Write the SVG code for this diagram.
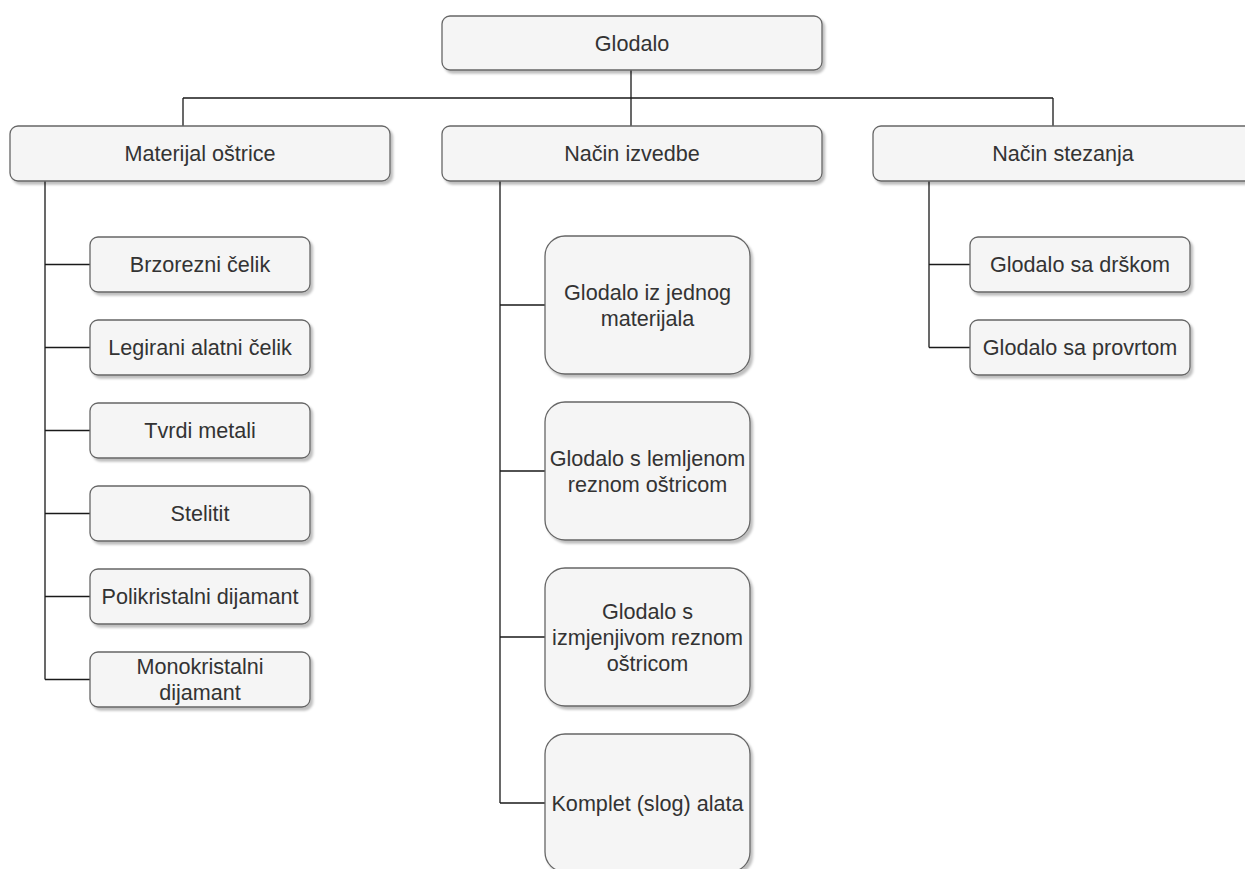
<svg xmlns="http://www.w3.org/2000/svg" width="1245" height="869" viewBox="0 0 1245 869">
<defs>
<filter id="sh" x="-10%" y="-10%" width="125%" height="130%">
<feDropShadow dx="2.5" dy="3" stdDeviation="1" flood-color="#000" flood-opacity="0.25"/>
</filter>
<style>
.box{fill:#f5f5f5;stroke:#666666;stroke-width:1.3;filter:url(#sh)}
.t{font-family:"Liberation Sans",Arial,sans-serif;font-size:21.6px;fill:#333333;text-anchor:middle}
.c{fill:none;stroke:#1a1a1a;stroke-width:1.3}
</style>
</defs>
<rect width="1245" height="869" fill="#ffffff"/>
<g id="connectors">
<path class="c" d="M631 70V126M183 98H1053M183 98V126M1053 98V126"/>
<path class="c" d="M45 181V679.5M45 264.5H90M45 347.5H90M45 430.5H90M45 513.5H90M45 596.5H90M45 679.5H90"/>
<path class="c" d="M500 181V803M500 305H545M500 471H545M500 637H545M500 803H545"/>
<path class="c" d="M929 181V347.5M929 264.5H970M929 347.5H970"/>
</g>
<g id="glodalo"><rect class="box" x="442" y="16" width="380" height="54" rx="8"/><text class="t" x="632" y="51">Glodalo</text></g>
<g id="materijal"><rect class="box" x="10" y="126" width="380" height="55" rx="8"/><text class="t" x="200" y="161">Materijal oštrice</text></g>
<g id="izvedba"><rect class="box" x="442" y="126" width="380" height="55" rx="8"/><text class="t" x="632" y="161">Način izvedbe</text></g>
<g id="stezanje"><rect class="box" x="873" y="126" width="380" height="55" rx="8"/><text class="t" x="1063" y="161">Način stezanja</text></g>
<g id="brzorezni"><rect class="box" x="90" y="237" width="220" height="55" rx="8"/><text class="t" x="200" y="272">Brzorezni čelik</text></g>
<g id="legirani"><rect class="box" x="90" y="320" width="220" height="55" rx="8"/><text class="t" x="200" y="355">Legirani alatni čelik</text></g>
<g id="tvrdi"><rect class="box" x="90" y="403" width="220" height="55" rx="8"/><text class="t" x="200" y="438">Tvrdi metali</text></g>
<g id="stelitit"><rect class="box" x="90" y="486" width="220" height="55" rx="8"/><text class="t" x="200" y="521">Stelitit</text></g>
<g id="poli"><rect class="box" x="90" y="569" width="220" height="55" rx="8"/><text class="t" x="200" y="604">Polikristalni dijamant</text></g>
<g id="mono"><rect class="box" x="90" y="652" width="220" height="55" rx="8"/><text class="t" x="200" y="674">Monokristalni</text><text class="t" x="200" y="700">dijamant</text></g>
<g id="jedan"><rect class="box" x="545" y="236" width="205" height="138" rx="20"/><text class="t" x="647.5" y="300">Glodalo iz jednog</text><text class="t" x="647.5" y="326">materijala</text></g>
<g id="lemljena"><rect class="box" x="545" y="402" width="205" height="138" rx="20"/><text class="t" x="647.5" y="466">Glodalo s lemljenom</text><text class="t" x="647.5" y="492">reznom oštricom</text></g>
<g id="izmjenjiva"><rect class="box" x="545" y="568" width="205" height="138" rx="20"/><text class="t" x="647.5" y="619">Glodalo s</text><text class="t" x="647.5" y="645">izmjenjivom reznom</text><text class="t" x="647.5" y="671">oštricom</text></g>
<g id="komplet"><rect class="box" x="545" y="734" width="205" height="138" rx="20"/><text class="t" x="647.5" y="811">Komplet (slog) alata</text></g>
<g id="drska"><rect class="box" x="970" y="237" width="220" height="55" rx="8"/><text class="t" x="1080" y="272">Glodalo sa drškom</text></g>
<g id="provrt"><rect class="box" x="970" y="320" width="220" height="55" rx="8"/><text class="t" x="1080" y="355">Glodalo sa provrtom</text></g>
</svg>
